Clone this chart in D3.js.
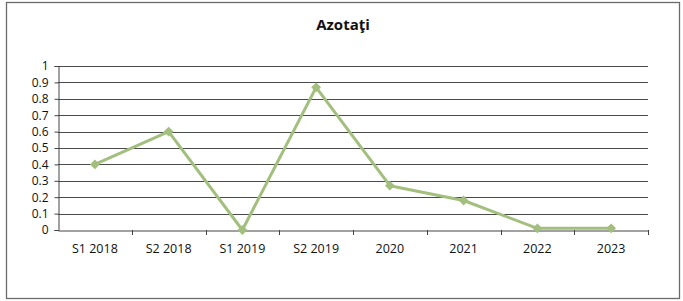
<!DOCTYPE html>
<html>
<head>
<meta charset="utf-8">
<script src="https://cdn.jsdelivr.net/npm/d3@7"></script>
<style>
  body { margin: 0; background: #fff; }
  svg { display: block; }
</style>
</head>
<body>
<script>
// data
var categories = ["S1 2018", "S2 2018", "S1 2019", "S2 2019", "2020", "2021", "2022", "2023"];
var values = [0.4, 0.6, 0, 0.87, 0.27, 0.18, 0.01, 0.01];
var yTicks = [0, 0.1, 0.2, 0.3, 0.4, 0.5, 0.6, 0.7, 0.8, 0.9, 1];
var chartTitle = "Azotaţi";

var W = 683, H = 301;
var margin = {top: 66, right: 35, bottom: 71, left: 58},
    width = W - margin.left - margin.right,
    height = H - margin.top - margin.bottom;

var font = "Open Sans, Liberation Sans, sans-serif";

var svg = d3.select("body").append("svg")
    .attr("width", W)
    .attr("height", H);

// outer frame
svg.append("rect")
    .attr("x", 6.5).attr("y", 2.5)
    .attr("width", 673).attr("height", 296)
    .attr("fill", "none")
    .attr("stroke", "#6b6b6b")
    .attr("stroke-width", 1.3);

svg.append("text")
    .text(chartTitle)
    .attr("x", 343)
    .attr("y", 30)
    .attr("text-anchor", "middle")
    .attr("font-family", font)
    .attr("font-weight", 700)
    .style("font-size", "15px")
    .attr("fill", "#111");

var g = svg.append("g")
    .attr("transform", "translate(" + margin.left + "," + margin.top + ")");

var x = d3.scaleBand().domain(categories).range([0, width]);
var y = d3.scaleLinear().domain([0, 1]).range([height, 0]);

// horizontal gridlines
g.selectAll(".grid")
    .data(yTicks.filter(function(d) { return d > 0; }))
    .enter().append("line")
    .attr("x1", 0).attr("x2", width)
    .attr("y1", function(d) { return Math.round(y(d)) + 0.5; })
    .attr("y2", function(d) { return Math.round(y(d)) + 0.5; })
    .attr("stroke", "#4a4a4a")
    .attr("stroke-width", 1);

// y axis
var yAxis = g.append("g")
    .attr("transform", "translate(0.5,0)")
    .call(d3.axisLeft(y).tickValues(yTicks).tickSize(4).tickFormat(d3.format("~g")));
yAxis.select(".domain").attr("stroke", "#444");
yAxis.selectAll(".tick line").attr("stroke", "#444");
yAxis.selectAll("text")
    .attr("x", -10)
    .attr("font-family", font)
    .style("font-size", "12px")
    .attr("fill", "#111");

// x axis with ticks between categories
var xAxis = g.append("g")
    .attr("transform", "translate(0," + (height + 0.5) + ")")
    .call(d3.axisBottom(x).tickSize(0).tickPadding(14));
xAxis.select(".domain").attr("stroke", "#444");
xAxis.selectAll("text")
    .attr("font-family", font)
    .style("font-size", "12.5px")
    .attr("fill", "#111");
g.append("g").selectAll("line")
    .data(categories.slice(1).concat(["end"]))
    .enter().append("line")
    .attr("x1", function(d, i) { return Math.round(x.step() * (i + 1)) + 0.5; })
    .attr("x2", function(d, i) { return Math.round(x.step() * (i + 1)) + 0.5; })
    .attr("y1", height).attr("y2", height + 5)
    .attr("stroke", "#444");

// line series
var line = d3.line()
    .x(function(d, i) { return x(categories[i]) + x.bandwidth() / 2; })
    .y(function(d) { return y(d); });

g.append("path")
    .datum(values)
    .attr("d", line)
    .attr("fill", "none")
    .attr("stroke", "#a3bf7e")
    .attr("stroke-width", 3)
    .attr("stroke-linejoin", "round");

// diamond markers: squares turned 45 degrees
g.selectAll(".pt")
    .data(values)
    .enter().append("path")
    .attr("d", d3.symbol().type(d3.symbolSquare).size(48))
    .attr("transform", function(d, i) {
        return "translate(" + (x(categories[i]) + x.bandwidth() / 2) + "," + y(d) + ") rotate(45)";
    })
    .attr("fill", "#a3bf7e");
</script>
</body>
</html>
